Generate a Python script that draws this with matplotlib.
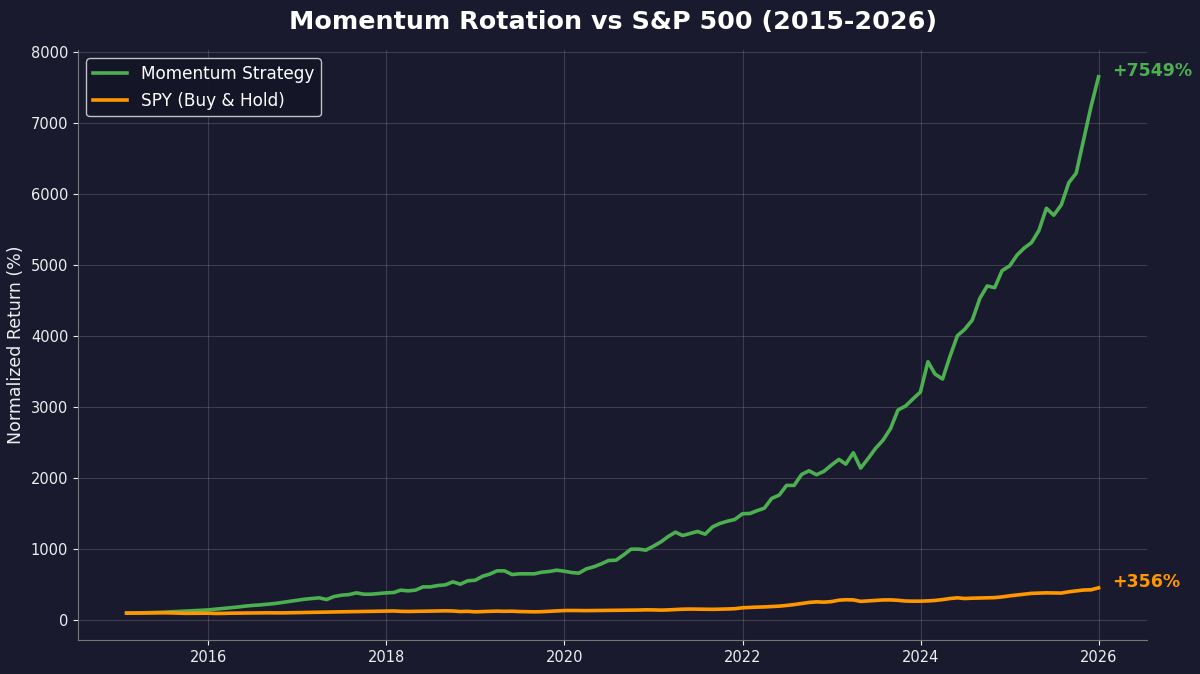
import matplotlib
matplotlib.use("Agg")
import matplotlib.pyplot as plt
import matplotlib.dates as mdates
import pandas as pd

start_date = "2015-01-31"
n_months = 132

momentum = [
    100, 101, 103, 106, 109, 113, 118, 123, 128, 133, 139, 145,
    155, 165, 175, 185, 198, 208, 215, 225, 235, 250, 265, 278,
    296, 305, 315, 291, 333, 352, 361, 385, 366, 366, 376, 385,
    390, 423, 413, 423, 469, 469, 488, 498, 540, 507, 554, 563,
    620, 648, 695, 695, 643, 653, 653, 653, 676, 686, 704, 690,
    671, 662, 723, 751, 793, 840, 845, 920, 1000, 1000, 986, 1042,
    1103, 1174, 1239, 1192, 1221, 1249, 1211, 1315, 1362, 1394, 1418, 1498,
    1502, 1540, 1577, 1714, 1761, 1897, 1897, 2052, 2103, 2047, 2095, 2183,
    2263, 2197, 2357, 2141, 2277, 2418, 2535, 2700, 2958, 3014, 3113, 3211,
    3638, 3465, 3394, 3709, 4005, 4094, 4225, 4530, 4704, 4680, 4920, 4986,
    5141, 5235, 5315, 5484, 5798, 5700, 5845, 6159, 6291, 6770, 7230, 7649,
]

spy = [
    100, 101, 103, 104, 105, 104, 103, 100, 97, 98, 100, 99,
    95, 96, 99, 100, 100, 101, 103, 104, 103, 103, 105, 108,
    110, 112, 113, 114, 117, 118, 120, 121, 123, 125, 127, 128,
    130, 125, 123, 125, 127, 128, 130, 132, 130, 122, 125, 118,
    122, 125, 128, 125, 127, 122, 120, 118, 120, 125, 130, 136,
    137, 136, 135, 136, 137, 138, 139, 140, 141, 143, 146, 145,
    142, 145, 150, 155, 157, 156, 154, 153, 155, 158, 162, 175,
    180, 184, 187, 192, 198, 208, 220, 235, 250, 258, 254, 262,
    282, 288, 286, 265, 272, 280, 285, 286, 280, 270, 268, 268,
    272, 278, 290, 305, 315, 305, 310, 312, 315, 318, 328, 343,
    355, 366, 378, 382, 385, 383, 382, 400, 412, 425, 428, 456,
]

labels = ["Momentum Strategy", "SPY (Buy & Hold)"]
colors = ["#4caf50", "#ff9800"]
title = "Momentum Rotation vs S&P 500 (2015-2026)"
ylabel = "Normalized Return (%)"

dates = pd.date_range(start_date, periods=n_months, freq="ME")

bg = "#1a1a2e"
fig = plt.figure(figsize=(12, 6.74), dpi=100, facecolor=bg)
ax = fig.add_axes([0.065, 0.05, 0.891, 0.876])
ax.set_facecolor(bg)

ax.plot(dates, momentum, color=colors[0], lw=2.6, label=labels[0])
ax.plot(dates, spy, color=colors[1], lw=2.6, label=labels[1])

for series, c in zip([momentum, spy], colors):
    ax.annotate(f"+{series[-1] - 100:.0f}%", xy=(dates[-1], series[-1]),
                xytext=(10, 4), textcoords="offset points", va="center",
                ha="left", color=c, fontsize=12.5, fontweight="bold")

ax.xaxis.set_major_locator(mdates.YearLocator(2))
ax.xaxis.set_major_formatter(mdates.DateFormatter("%Y"))
ax.set_yticks(range(0, 8001, 1000))

ax.grid(True, color="white", alpha=0.15, lw=0.8)
for s in ["top", "right"]:
    ax.spines[s].set_visible(False)
for s in ["left", "bottom"]:
    ax.spines[s].set_color("#777777")
ax.tick_params(colors="#eeeeee", labelsize=10.5)

ax.set_ylabel(ylabel, color="#eeeeee", fontsize=12.5)
ax.set_title(title, color="white", fontsize=18.3, fontweight="bold", pad=15)

leg = ax.legend(loc="upper left", fontsize=12.2, facecolor="#151528",
                edgecolor="#cccccc", framealpha=0.95)
for t in leg.get_texts():
    t.set_color("white")

fig.savefig("out.png", dpi=100, facecolor=bg)
